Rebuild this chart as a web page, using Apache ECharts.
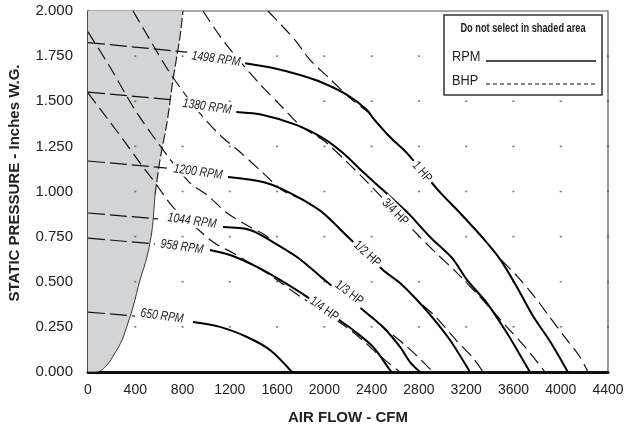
<!DOCTYPE html>
<html>
<head>
<meta charset="utf-8">
<script src="https://cdn.jsdelivr.net/npm/echarts@6/dist/echarts.min.js"></script>
<style>
  html, body { margin: 0; padding: 0; background: #fff; }
  #chart { width: 628px; height: 432px; }
</style>
</head>
<body>
<div id="chart"></div>
<script>
// Axis ticks
const airflowTicks = [0, 400, 800, 1200, 1600, 2000, 2400, 2800, 3200, 3600, 4000, 4400];
const pressureTicks = [0, 0.25, 0.5, 0.75, 1.0, 1.25, 1.5, 1.75, 2.0];

// Edge of the "do not select" region (CFM, in. W.G.)
const shadeEdge = [[0, 0], [76, 0], [161, 0.039], [228, 0.105], [288, 0.177], [338, 0.271],
  [381, 0.360], [440, 0.510], [499, 0.637], [542, 0.787], [567, 0.981], [609, 1.175],
  [668, 1.380], [719, 1.618], [778, 1.856], [804, 2.0]];

// Fan speed curves: dashed stub inside the shaded region, then the solid curve
const rpmNames = ['1498 RPM', '1380 RPM', '1200 RPM', '1044 RPM', '958 RPM', '650 RPM'];
const rpm1498Stub = [[0, 1.825], [840, 1.772]];
const rpm1380Stub = [[0, 1.551], [736, 1.507]];
const rpm1200Stub = [[0, 1.169], [668, 1.130]];
const rpm1044Stub = [[0, 0.881], [592, 0.848]];
const rpm958Stub = [[0, 0.742], [567, 0.709]];
const rpm650Stub = [[0, 0.332], [398, 0.310]];

const rpm1498 = [[1330, 1.710], [1565, 1.684], [1794, 1.645], [1989, 1.601], [2192, 1.535],
  [2361, 1.452], [2412, 1.407], [2555, 1.302], [2699, 1.213], [2962, 1.008], [3148, 0.881],
  [3342, 0.742], [3486, 0.625], [3630, 0.470], [3765, 0.310], [3909, 0.170], [4060, 0]];
const rpm1380 = [[1255, 1.440], [1481, 1.424], [1768, 1.368], [1989, 1.296], [2158, 1.213],
  [2327, 1.108], [2496, 1.008], [2699, 0.886], [2894, 0.748], [3080, 0.632], [3207, 0.510],
  [3376, 0.382], [3545, 0.216], [3715, 0.028], [3740, 0]];
const rpm1200 = [[1185, 1.080], [1481, 1.053], [1625, 1.019], [1819, 0.953], [1989, 0.881],
  [2200, 0.748], [2496, 0.565], [2640, 0.493], [2784, 0.399], [2919, 0.299], [3063, 0.177],
  [3232, 0]];
const rpm1044 = [[1142, 0.803], [1371, 0.787], [1565, 0.720], [1768, 0.637], [1904, 0.565],
  [2022, 0.499], [2327, 0.343], [2496, 0.249], [2640, 0.139], [2725, 0.055], [2809, 0]];
const rpm958 = [[1032, 0.676], [1202, 0.648], [1430, 0.582], [1625, 0.510], [1853, 0.416],
  [2149, 0.277], [2242, 0.233], [2412, 0.139], [2555, 0.011], [2572, 0]];
const rpm650 = [[888, 0.277], [1117, 0.250], [1345, 0.194], [1540, 0.122], [1726, 0]];

// Brake horsepower curves
const hpNames = ['1 HP', '3/4 HP', '1/2 HP', '1/3 HP', '1/4 HP'];
const bhp1 = [[1523, 2.0], [1752, 1.839], [1878, 1.729], [2031, 1.634], [2217, 1.518],
  [2369, 1.440], [2412, 1.407], [2555, 1.302], [2699, 1.213], [2962, 1.008], [3148, 0.881],
  [3342, 0.742], [3486, 0.630], [3638, 0.526], [3774, 0.421], [3901, 0.310], [4028, 0.199],
  [4163, 0.083], [4230, 0]];
const bhp34 = [[973, 2.0], [1159, 1.823], [1438, 1.607], [1642, 1.468], [1811, 1.357],
  [1989, 1.285], [2192, 1.163], [2344, 1.064], [2792, 0.759], [2953, 0.654], [3105, 0.560],
  [3317, 0.416], [3545, 0.249], [3698, 0.139], [3867, 0]];
const bhp12 = [[381, 2.0], [550, 1.812], [677, 1.673], [795, 1.562], [973, 1.413],
  [1134, 1.302], [1286, 1.219], [1472, 1.108], [1642, 1.008], [1819, 0.953], [1989, 0.881],
  [2200, 0.748], [2496, 0.565], [2640, 0.493], [2784, 0.399], [2936, 0.310], [3114, 0.177],
  [3266, 0.072], [3342, 0]];
const bhp13 = [[0, 1.884], [186, 1.690], [398, 1.452], [668, 1.202], [863, 1.047],
  [1007, 0.981], [1176, 0.881], [1371, 0.803], [1498, 0.759], [1565, 0.720], [1768, 0.637],
  [1904, 0.565], [2022, 0.499], [2327, 0.343], [2496, 0.249], [2682, 0.150], [2784, 0.089],
  [2919, 0]];
const bhp14 = [[0, 1.546], [186, 1.385], [313, 1.274], [440, 1.158], [550, 1.064],
  [719, 0.914], [863, 0.831], [1058, 0.720], [1227, 0.659], [1498, 0.554], [1625, 0.499],
  [1777, 0.427], [2149, 0.266], [2302, 0.188], [2471, 0.089], [2640, 0]];

// Where the curve names sit (CFM, in. W.G.)
const rpmLabelAt = [[1083, 1.734], [1007, 1.470], [931, 1.108], [880, 0.837], [795, 0.693], [626, 0.310]];
const hpLabelAt = [[2826, 1.108], [2598, 0.886], [2361, 0.654], [2209, 0.438], [1997, 0.349]];

const rpmStubs = [rpm1498Stub, rpm1380Stub, rpm1200Stub, rpm1044Stub, rpm958Stub, rpm650Stub];
const rpmCurves = [rpm1498, rpm1380, rpm1200, rpm1044, rpm958, rpm650];
const bhpCurves = [bhp1, bhp34, bhp12, bhp13, bhp14];
// Clockwise tilt of each HP name, in degrees
const hpLabelTilt = [50, 46, 43, 38, 36];
const rpmLabelTilt = 8;

const SANS = "'Liberation Sans', Arial, Helvetica, sans-serif";
const NARROW_SCALE = 0.8;   // condensed look for the small annotation text
const deg = Math.PI / 180;

const series = [];

// Shaded region: fill from the edge curve up to the top of the pressure axis
series.push({
  type: 'line', data: shadeEdge, symbol: 'none', silent: true, z: 1,
  lineStyle: { width: 0 },
  areaStyle: { origin: 'end', color: '#d3d4d6', opacity: 1 }
});
series.push({
  type: 'line', data: shadeEdge.filter(p => p[1] <= 1.0), symbol: 'none', silent: true, z: 3,
  smooth: 0.3, lineStyle: { color: '#333', width: 1 }
});
series.push({
  type: 'line', data: shadeEdge.filter(p => p[1] >= 0.95), symbol: 'none', silent: true, z: 3,
  smooth: 0.3, lineStyle: { color: '#222', width: 1.2, type: [10, 3] }
});

// Grid dots at each tick crossing
const dots = [];
airflowTicks.filter(x => x > 0).forEach(x => {
  pressureTicks.filter(y => y > 0 && y < 2).forEach(y => dots.push([x, y]));
});
series.push({
  type: 'scatter', data: dots, symbol: 'rect', symbolSize: [2, 1.6], silent: true, z: 2,
  itemStyle: { color: '#555' }
});

// BHP dashed curves
bhpCurves.forEach(d => series.push({
  type: 'line', data: d, symbol: 'none', smooth: 0.3, silent: true, z: 4,
  lineStyle: { color: '#111', width: 1.2, type: [13, 6] }
}));

// RPM stubs (dashed) and curves (solid)
rpmStubs.forEach(d => series.push({
  type: 'line', data: d, symbol: 'none', silent: true, z: 4,
  lineStyle: { color: '#111', width: 1.2, type: [17, 5] }
}));
rpmCurves.forEach(d => series.push({
  type: 'line', data: d, symbol: 'none', smooth: 0.3, silent: true, z: 5,
  lineStyle: { color: '#000', width: 2 }
}));

const chart = echarts.init(document.getElementById('chart'), null, { renderer: 'canvas' });
chart.setOption({
  animation: false,
  backgroundColor: '#fff',
  grid: { left: 88, right: 20, top: 11, bottom: 60, show: true, borderColor: '#555', borderWidth: 1.2, backgroundColor: 'transparent' },
  xAxis: {
    type: 'value', min: airflowTicks[0], max: airflowTicks[airflowTicks.length - 1], interval: 400,
    axisLine: { show: true, lineStyle: { color: '#111', width: 3 } },
    axisTick: { show: false }, splitLine: { show: false },
    axisLabel: { fontFamily: SANS, fontSize: 14, color: '#222', margin: 11, formatter: v => String(v) }
  },
  yAxis: {
    type: 'value', min: pressureTicks[0], max: pressureTicks[pressureTicks.length - 1], interval: 0.25,
    axisLine: { show: true, lineStyle: { color: '#333', width: 1.5 } },
    axisTick: { show: false }, splitLine: { show: false },
    axisLabel: { fontFamily: SANS, fontSize: 15, color: '#222', margin: 15, formatter: v => v.toFixed(3) }
  },
  series: series
});

// Annotations: axis titles, curve names placed through the axes, and the key box
const toPx = p => chart.convertToPixel({ gridIndex: 0 }, p);
const graphics = [
  {
    type: 'text', x: 15, y: 183, rotation: 90 * deg,
    style: { text: 'STATIC PRESSURE - Inches W.G.', fontFamily: SANS, fontWeight: 'bold', fontSize: 15, fill: '#222', align: 'center', verticalAlign: 'middle' }
  },
  {
    type: 'text', x: 348, y: 418,
    style: { text: 'AIR FLOW - CFM', fontFamily: SANS, fontWeight: 'bold', fontSize: 15, fill: '#222', align: 'center', verticalAlign: 'middle' }
  }
];
rpmNames.forEach((n, i) => {
  const [px, py] = toPx(rpmLabelAt[i]);
  graphics.push({
    type: 'text', x: px, y: py, rotation: -rpmLabelTilt * deg, scaleX: NARROW_SCALE, z: 10,
    style: { text: n, fontFamily: SANS, fontStyle: 'italic', fontSize: 13, fill: '#222', align: 'center', verticalAlign: 'middle', backgroundColor: '#fff', padding: [0, 2] }
  });
});
hpNames.forEach((n, i) => {
  const [px, py] = toPx(hpLabelAt[i]);
  graphics.push({
    type: 'text', x: px, y: py, rotation: -hpLabelTilt[i] * deg, scaleX: NARROW_SCALE, z: 10,
    style: { text: n, fontFamily: SANS, fontSize: 13, fill: '#222', align: 'center', verticalAlign: 'middle', backgroundColor: '#fff', padding: [1, 3] }
  });
});
graphics.push(
  { type: 'rect', shape: { x: 444, y: 15, width: 158, height: 80 }, style: { fill: '#fff', stroke: '#333', lineWidth: 1.5 }, z: 20 },
  { type: 'text', x: 523, y: 28, z: 21, scaleX: 0.71, style: { text: 'Do not select in shaded area', fontFamily: SANS, fontWeight: 'bold', fontSize: 13, fill: '#222', align: 'center', verticalAlign: 'middle' } },
  { type: 'text', x: 452, y: 57, z: 21, scaleX: 0.85, style: { text: 'RPM', fontFamily: SANS, fontSize: 15, fill: '#222', align: 'left', verticalAlign: 'middle' } },
  { type: 'text', x: 452, y: 81, z: 21, scaleX: 0.85, style: { text: 'BHP', fontFamily: SANS, fontSize: 15, fill: '#222', align: 'left', verticalAlign: 'middle' } },
  { type: 'line', z: 21, shape: { x1: 486, y1: 61, x2: 596, y2: 61 }, style: { stroke: '#111', lineWidth: 1.5 } },
  { type: 'line', z: 21, shape: { x1: 486, y1: 84, x2: 596, y2: 84 }, style: { stroke: '#111', lineWidth: 1, lineDash: [4, 3] } }
);
chart.setOption({ graphic: graphics });
</script>
</body>
</html>
